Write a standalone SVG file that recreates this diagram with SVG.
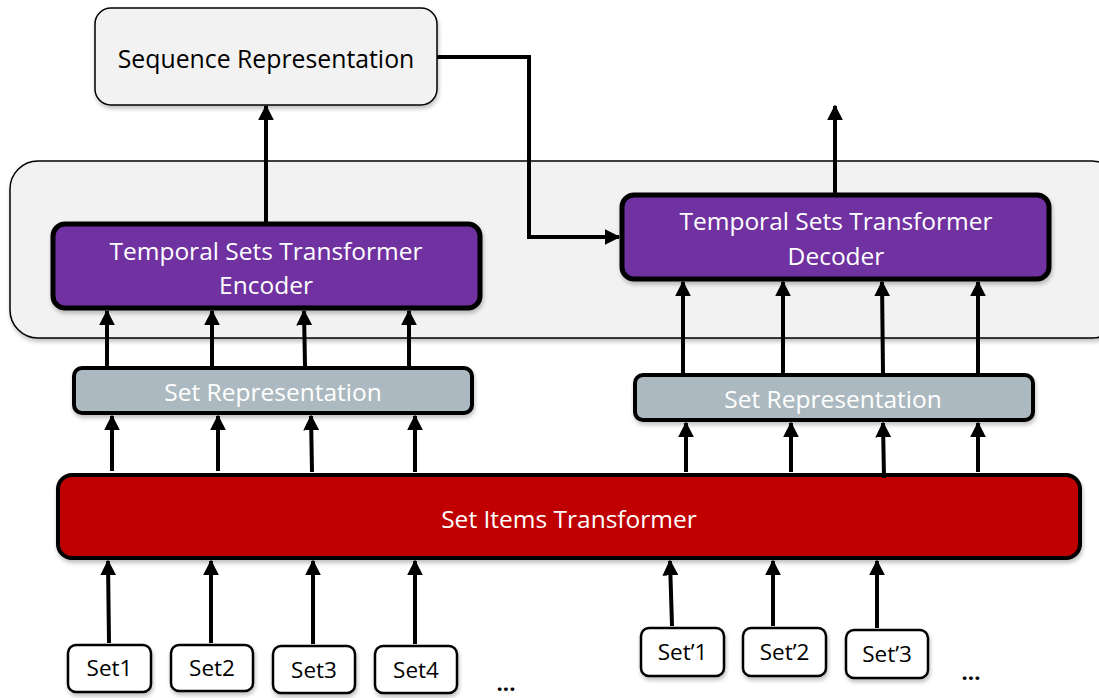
<svg xmlns="http://www.w3.org/2000/svg" width="1099" height="698" viewBox="0 0 1099 698">
  <style>
    .lbl { font-family: "Open Sans", "Liberation Sans", sans-serif; text-anchor: middle; dominant-baseline: central; }
    .dark { fill: #000; }
    .light { fill: #fff; }
    .conn { fill: none; stroke: #000; stroke-width: 4; }
  </style>
  <defs>
    <marker id="arrow" viewBox="0 0 10 10" refX="9" refY="5" markerWidth="4" markerHeight="4" orient="auto" markerUnits="strokeWidth">
      <path d="M0,0 L10,5 L0,10 Z" fill="#000"/>
    </marker>
    <filter id="shadow" x="-5%" y="-10%" width="110%" height="130%">
      <feGaussianBlur in="SourceAlpha" stdDeviation="2"/>
      <feOffset dx="1" dy="3" result="b"/>
      <feComponentTransfer><feFuncA type="linear" slope="0.25"/></feComponentTransfer>
      <feMerge><feMergeNode/><feMergeNode in="SourceGraphic"/></feMerge>
    </filter>
  </defs>

  <rect width="1099" height="698" fill="#fff"/>

  <!-- shared container around the two temporal transformers -->
  <g id="container">
    <rect x="10" y="161" width="1110" height="177" rx="28" fill="#f2f2f2" stroke="#000" stroke-width="1.5" filter="url(#shadow)"/>
  </g>

  <g id="sequence-representation">
    <rect x="95" y="8" width="342" height="97" rx="16" fill="#f2f2f2" stroke="#000" stroke-width="1.5" filter="url(#shadow)"/>
    <text class="lbl dark" x="266" y="58" font-size="24.8">Sequence Representation</text>
  </g>

  <g id="encoder">
    <rect x="53" y="224" width="427" height="84" rx="12" fill="#7030a0" stroke="#000" stroke-width="5" filter="url(#shadow)"/>
    <text class="lbl light" x="266" y="250" font-size="24.5">Temporal Sets Transformer</text>
    <text class="lbl light" x="266" y="284" font-size="24.5">Encoder</text>
  </g>

  <g id="decoder">
    <rect x="622" y="195" width="427" height="84" rx="12" fill="#7030a0" stroke="#000" stroke-width="5" filter="url(#shadow)"/>
    <text class="lbl light" x="836" y="220" font-size="24.5">Temporal Sets Transformer</text>
    <text class="lbl light" x="836" y="255" font-size="24.5">Decoder</text>
  </g>

  <g id="set-representation-left">
    <rect x="74" y="368" width="398" height="45" rx="8" fill="#adb9c0" stroke="#000" stroke-width="4" filter="url(#shadow)"/>
    <text class="lbl light" x="273" y="391" font-size="24.5">Set Representation</text>
  </g>

  <g id="set-representation-right">
    <rect x="635" y="375" width="398" height="45" rx="8" fill="#adb9c0" stroke="#000" stroke-width="4" filter="url(#shadow)"/>
    <text class="lbl light" x="833" y="398" font-size="24.5">Set Representation</text>
  </g>

  <g id="set-items-transformer">
    <rect x="58" y="475" width="1022" height="83" rx="14" fill="#c00000" stroke="#000" stroke-width="4" filter="url(#shadow)"/>
    <text class="lbl light" x="569" y="518" font-size="24.5">Set Items Transformer</text>
  </g>

  <g id="set1">
    <rect x="68" y="645" width="83" height="47" rx="8" fill="#fff" stroke="#000" stroke-width="2.5" filter="url(#shadow)"/>
    <text class="lbl dark" x="109.5" y="667" font-size="22.5">Set1</text>
  </g>
  <g id="set2">
    <rect x="171" y="645" width="82" height="46" rx="8" fill="#fff" stroke="#000" stroke-width="2.5" filter="url(#shadow)"/>
    <text class="lbl dark" x="212" y="667" font-size="22.5">Set2</text>
  </g>
  <g id="set3">
    <rect x="273" y="646" width="82" height="47" rx="8" fill="#fff" stroke="#000" stroke-width="2.5" filter="url(#shadow)"/>
    <text class="lbl dark" x="314" y="669" font-size="22.5">Set3</text>
  </g>
  <g id="set4">
    <rect x="375" y="646" width="82" height="47" rx="8" fill="#fff" stroke="#000" stroke-width="2.5" filter="url(#shadow)"/>
    <text class="lbl dark" x="416" y="669" font-size="22.5">Set4</text>
  </g>
  <g id="set-prime1">
    <rect x="641" y="628" width="83" height="48" rx="8" fill="#fff" stroke="#000" stroke-width="2.5" filter="url(#shadow)"/>
    <text class="lbl dark" x="682.5" y="651" font-size="22.5">Set’1</text>
  </g>
  <g id="set-prime2">
    <rect x="743" y="628" width="83" height="48" rx="8" fill="#fff" stroke="#000" stroke-width="2.5" filter="url(#shadow)"/>
    <text class="lbl dark" x="784.5" y="651" font-size="22.5">Set’2</text>
  </g>
  <g id="set-prime3">
    <rect x="846" y="630" width="82" height="48" rx="8" fill="#fff" stroke="#000" stroke-width="2.5" filter="url(#shadow)"/>
    <text class="lbl dark" x="887" y="653" font-size="22.5">Set’3</text>
  </g>

  <g id="ellipses">
    <text class="lbl dark" x="506" y="682" font-size="22" font-weight="bold">...</text>
    <text class="lbl dark" x="971" y="671" font-size="22" font-weight="bold">...</text>
  </g>

  <g id="connectors">
    <!-- encoder to sequence representation -->
    <path class="conn" d="M266,222 L266,106" marker-end="url(#arrow)"/>
    <!-- sequence representation feeding the decoder -->
    <path class="conn" d="M437,57 L529,57 L529,237 L619,237" marker-end="url(#arrow)"/>
    <!-- decoder output -->
    <path class="conn" d="M835,193 L835,106" marker-end="url(#arrow)"/>

    <!-- left set representation to encoder -->
    <path class="conn" d="M107,366 L107,311" marker-end="url(#arrow)"/>
    <path class="conn" d="M212,366 L212,311" marker-end="url(#arrow)"/>
    <path class="conn" d="M305,366 L304,311" marker-end="url(#arrow)"/>
    <path class="conn" d="M409,366 L409,311" marker-end="url(#arrow)"/>

    <!-- right set representation to decoder -->
    <path class="conn" d="M683,373 L683,282" marker-end="url(#arrow)"/>
    <path class="conn" d="M783,373 L783,282" marker-end="url(#arrow)"/>
    <path class="conn" d="M883,373 L882,282" marker-end="url(#arrow)"/>
    <path class="conn" d="M978,373 L978,282" marker-end="url(#arrow)"/>

    <!-- set items transformer to left set representation -->
    <path class="conn" d="M112,471 L112,416" marker-end="url(#arrow)"/>
    <path class="conn" d="M218,471 L218,416" marker-end="url(#arrow)"/>
    <path class="conn" d="M312,472 L311,416" marker-end="url(#arrow)"/>
    <path class="conn" d="M415,472 L415,416" marker-end="url(#arrow)"/>

    <!-- set items transformer to right set representation -->
    <path class="conn" d="M686,472 L686,423" marker-end="url(#arrow)"/>
    <path class="conn" d="M791,472 L791,423" marker-end="url(#arrow)"/>
    <path class="conn" d="M884,478 L883,423" marker-end="url(#arrow)"/>
    <path class="conn" d="M978,472 L978,423" marker-end="url(#arrow)"/>

    <!-- input sets to set items transformer -->
    <path class="conn" d="M109,643 L108,561" marker-end="url(#arrow)"/>
    <path class="conn" d="M211,643 L211,561" marker-end="url(#arrow)"/>
    <path class="conn" d="M313,644 L313,561" marker-end="url(#arrow)"/>
    <path class="conn" d="M415,644 L415,561" marker-end="url(#arrow)"/>
    <path class="conn" d="M672,626 L670,561" marker-end="url(#arrow)"/>
    <path class="conn" d="M773,626 L773,561" marker-end="url(#arrow)"/>
    <path class="conn" d="M877,628 L877,561" marker-end="url(#arrow)"/>
  </g>
</svg>
